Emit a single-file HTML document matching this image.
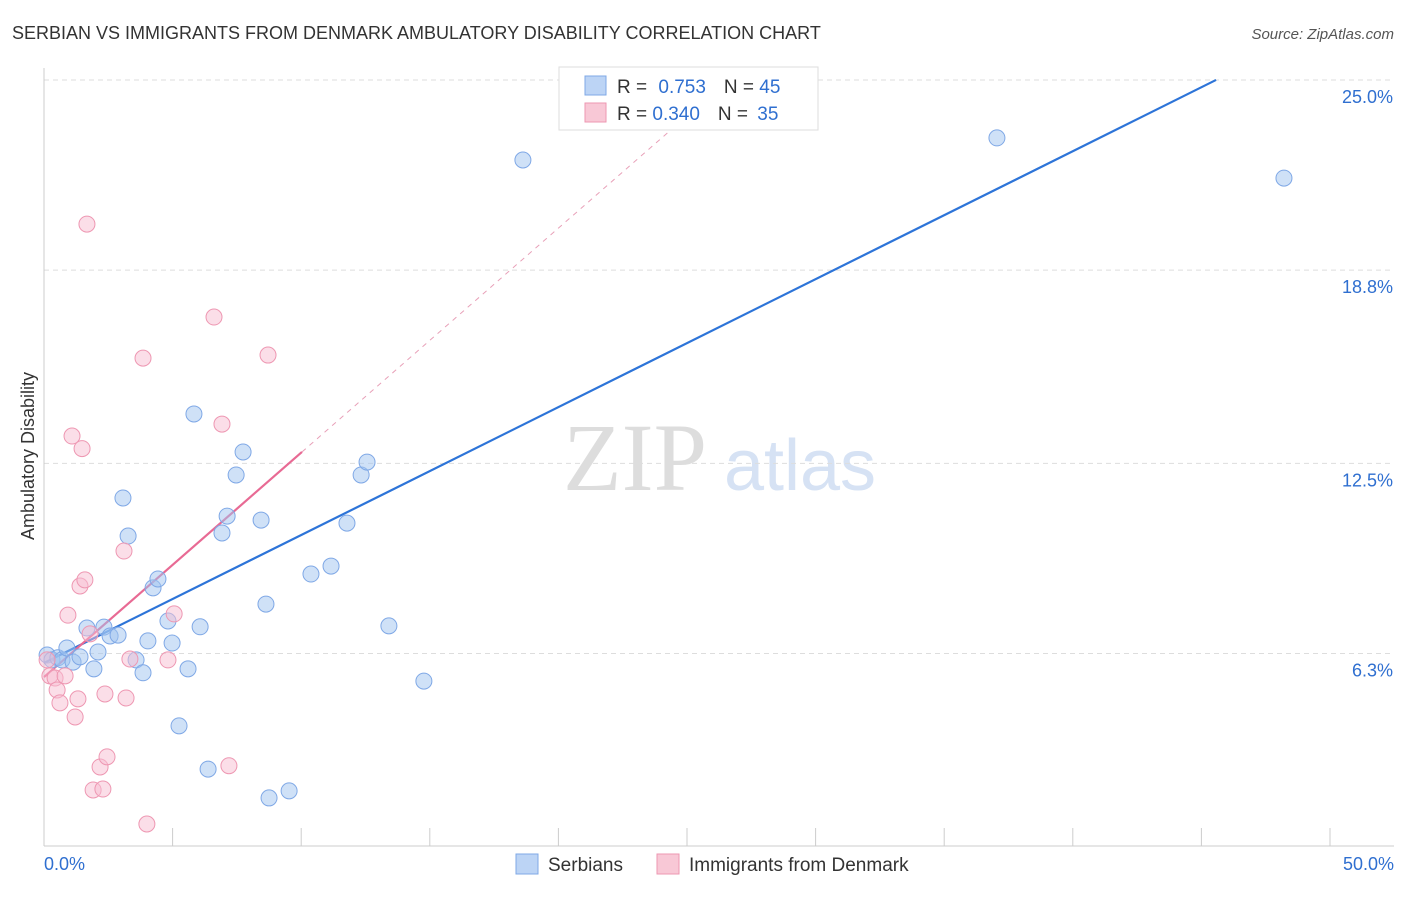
<!DOCTYPE html>
<html><head><meta charset="utf-8"><style>
body{margin:0;background:#fff;font-family:"Liberation Sans",sans-serif;}
</style></head><body>
<svg id="c" width="1406" height="892" xmlns="http://www.w3.org/2000/svg">
<text x="12" y="39" font-size="18" fill="#333">SERBIAN VS IMMIGRANTS FROM DENMARK AMBULATORY DISABILITY CORRELATION CHART</text>
<text x="1394" y="39" font-size="15" fill="#555" font-style="italic" text-anchor="end">Source: ZipAtlas.com</text>
<text x="34" y="456" font-size="18" fill="#333" text-anchor="middle" transform="rotate(-90 34 456)">Ambulatory Disability</text>
<text x="635" y="490" font-size="96" fill="#ddd" font-family="Liberation Serif,serif" text-anchor="middle">ZIP</text>
<text x="800" y="490" font-size="72" fill="#d6e2f4" text-anchor="middle">atlas</text>
<g id="grid"></g><g id="lines"></g><g id="pts"></g>
<g>
<rect x="559" y="67" width="259" height="63" fill="#fff" stroke="#ddd"/>
<rect x="585" y="76" width="21" height="19" fill="#bcd4f5" stroke="#7fa8e6"/>
<rect x="585" y="103" width="21" height="19" fill="#f8c8d6" stroke="#ee97b2"/>
<text x="617" y="93" font-size="19" fill="#333">R = <tspan fill="#2f6fd0" dx="6">0.753</tspan><tspan dx="18" fill="#333">N = </tspan><tspan fill="#2f6fd0">45</tspan></text>
<text x="617" y="120" font-size="19" fill="#333">R = <tspan fill="#2f6fd0">0.340</tspan><tspan dx="18" fill="#333">N = </tspan><tspan fill="#2f6fd0" dx="4">35</tspan></text>
</g>
<g>
<rect x="516" y="854" width="22" height="20" fill="#bcd4f5" stroke="#7fa8e6"/>
<text x="548" y="871" font-size="19" fill="#333">Serbians</text>
<rect x="657" y="854" width="22" height="20" fill="#f8c8d6" stroke="#ee97b2"/>
<text x="689" y="871" font-size="19" fill="#333">Immigrants from Denmark</text>
</g>
</svg>
<script>
const yTicks=[25.0,18.8,12.5,6.3];
const yTickLabels=["25.0%","18.8%","12.5%","6.3%"];
const blueX=[0.12,0.31,0.54,0.70,0.89,1.13,1.40,1.67,1.94,2.10,2.33,2.57,2.88,3.07,3.27,3.58,3.85,4.04,4.24,4.43,4.82,4.98,5.25,5.60,5.83,6.07,6.38,6.92,7.12,7.47,7.74,8.44,8.63,8.75,9.53,10.38,11.16,11.78,12.33,12.56,13.41,14.77,18.62,26.17,37.05,48.21];
const blueY=[6.25,6.09,6.16,6.09,6.48,6.02,6.19,7.13,5.80,6.35,7.16,6.87,6.90,11.37,10.13,6.09,5.67,6.71,8.44,8.73,7.36,6.64,3.94,5.80,14.11,7.17,2.53,10.23,10.78,12.12,12.87,10.65,7.91,1.59,1.82,8.89,9.15,10.55,12.12,12.54,7.20,5.40,22.39,24.67,23.11,21.80];
const pinkX=[0.12,0.23,0.43,0.51,0.62,0.82,0.93,1.09,1.21,1.32,1.40,1.48,1.59,1.67,1.79,1.91,2.18,2.29,2.37,2.45,3.11,3.19,3.34,3.85,4.00,4.82,5.06,6.61,6.92,7.19,8.71];
const pinkY=[6.09,5.57,5.50,5.11,4.69,5.57,7.55,13.39,4.23,4.82,8.50,12.98,8.70,20.30,6.94,1.85,2.60,1.88,4.98,2.93,9.64,4.85,6.12,15.93,0.74,6.09,7.59,17.27,13.78,2.64,16.03];
const blueFit=[0,5.99,45.57,25];
const pinkFit=[0,5.53,10.03,12.87,26.6,25];
const NS="http://www.w3.org/2000/svg";
const X=v=>44+v*25.72, Y=v=>846.7-v*30.67;
function mk(t,a,p){const e=document.createElementNS(NS,t);for(const k in a)e.setAttribute(k,a[k]);p.appendChild(e);return e;}
const g=document.getElementById('grid');
yTicks.forEach((t,i)=>{
 const l=mk('line',{x1:44,x2:1394,y1:Y(t),y2:Y(t),stroke:'#ddd','stroke-dasharray':'5,4'},g);
 
 
 const tx=mk('text',{x:1393,y:Y(t)+23,'font-size':18,fill:'#2f6fd0','text-anchor':'end'},g);
 tx.textContent=yTickLabels[i];
 
 
});
mk('line',{x1:44,x2:44,y1:68,y2:846,stroke:'#ccc'},g);
mk('line',{x1:44,x2:1394,y1:846,y2:846,stroke:'#ccc'},g);
for(let i=0;i<=10;i++){const t=mk('line',{x1:X(i*5),x2:X(i*5),y1:828,y2:846,stroke:'#ccc'},g);
 
 }
const x0=mk('text',{x:44,y:870,'font-size':18,fill:'#2f6fd0'},g);x0.textContent='0.0%';


const x1=mk('text',{x:1394,y:870,'font-size':18,fill:'#2f6fd0','text-anchor':'end'},g);x1.textContent='50.0%';


const P=document.getElementById('pts');
blueX.forEach((v,i)=>{const c=mk('circle',{cx:X(v),cy:Y(blueY[i]),r:8,fill:'rgba(160,195,240,0.5)',stroke:'#7fa8e6','stroke-width':1},P);
 
 });
pinkX.forEach((v,i)=>{const c=mk('circle',{cx:X(v),cy:Y(pinkY[i]),r:8,fill:'rgba(248,190,210,0.5)',stroke:'#ee97b2','stroke-width':1},P);
 
 });
const L=document.getElementById('lines');
const bl=mk('line',{x1:X(blueFit[0]),y1:Y(blueFit[1]),x2:X(blueFit[2]),y2:Y(blueFit[3]),stroke:'#2d74d8','stroke-width':2.2},L);


const pd=mk('line',{x1:X(pinkFit[2]),y1:Y(pinkFit[3]),x2:X(pinkFit[4]),y2:Y(pinkFit[5]),stroke:'#e8a0b8','stroke-width':1,'stroke-dasharray':'5,5'},L);


const pl=mk('line',{x1:X(pinkFit[0]),y1:Y(pinkFit[1]),x2:X(pinkFit[2]),y2:Y(pinkFit[3]),stroke:'#e86a94','stroke-width':2.2},L);


</script>
</body></html>
